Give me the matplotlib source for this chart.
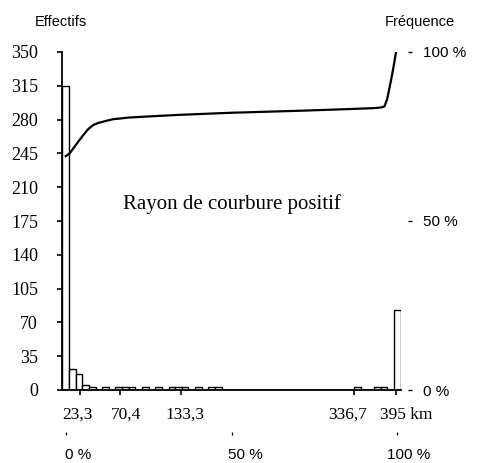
import matplotlib
matplotlib.use('Agg')
import matplotlib.pyplot as plt
import matplotlib.transforms as mtransforms
import numpy as np

# histogram: 51 classes, each 2 % of the x range (class centres 0, 2, ..., 100 %)
counts = [315, 22, 17, 5, 3, 0, 3, 0, 3, 3, 3, 0, 3, 0, 3, 0, 3, 3, 3, 0, 3, 0, 3, 3,
          0, 0, 0, 0, 0, 0, 0, 0, 0, 0, 0, 0, 0, 0, 0, 0, 0, 0, 0, 0,
          3, 0, 0, 3, 3, 0, 83]
class_pct = np.arange(len(counts)) * 2

# cumulative frequency curve (x in %, y in %)
cum_x = [0, 1.2, 2.3, 3.8, 5.3, 6.8, 8.3, 9.8, 11.3, 14.2, 19, 24.3, 34.2, 49.2,
         70, 85, 93, 95.1, 96.1, 96.9, 98.1, 99, 99.6]
cum_y = [69.2, 70.0, 71.5, 73.5, 75.4, 77.2, 78.4, 79.0, 79.4, 80.1, 80.6, 80.9, 81.4, 82.0,
         82.6, 83.1, 83.4, 83.6, 83.9, 86.0, 91.7, 96.5, 100]

# km ticks
km_ticks = [4.3, 16.3, 34.7, 86.9, 99.5]
km_labels = ['23,3', '70,4', '133,3', '336,7', '395 km']
km_label_x = [3.6, 18.2, 36.0, 85.0, 102.8]

pct_ticks = [0, 50, 100]
pct_labels = ['0 %', '50 %', '100 %']
pct_label_x = [3.6, 54.3, 103.5]

left_ticks = list(range(0, 351, 35))

serif = 'Liberation Serif'
sans = 'Liberation Sans'

fig = plt.figure(figsize=(4.78, 4.63), dpi=100)
ax = fig.add_axes([62.4 / 478, 1 - 390 / 463, 338.3 / 478, 338 / 463])

ax.bar(class_pct, counts, width=2, facecolor='white', edgecolor='black', linewidth=1.0)
ax.set_xlim(-1, 101)
ax.set_ylim(0, 350)
for s in ['top', 'right']:
    ax.spines[s].set_visible(False)
for s in ['left', 'bottom']:
    ax.spines[s].set_linewidth(1.3)

ax.set_yticks(left_ticks)
ax.set_yticklabels([str(v) for v in left_ticks], fontfamily=serif, fontsize=13)
ax.tick_params(axis='y', direction='out', length=3.6, width=1.2, pad=14)

ax.set_xticks(km_ticks)
ax.set_xticklabels([])
ax.tick_params(axis='x', direction='out', length=3.6, width=1.2)
trans = mtransforms.blended_transform_factory(ax.transData, ax.transAxes)
for lab, lx in zip(km_labels, km_label_x):
    ax.text(lx, -0.050, lab, transform=trans, ha='center', va='top',
            fontfamily=serif, fontsize=12.5)

# percent axis underneath
sec = ax.secondary_xaxis(-0.124)
sec.set_xticks(pct_ticks)
sec.set_xticklabels([])
sec.spines['bottom'].set_visible(False)
sec.tick_params(direction='out', length=2.2, width=0.9)
for lab, lx in zip(pct_labels, pct_label_x):
    ax.text(lx, -0.172, lab, transform=trans, ha='center', va='top',
            fontfamily=sans, fontsize=11)

# frequency axis on the right
ax2 = ax.twinx()
ax2.set_ylim(0, 100)
ax2.plot(cum_x, cum_y, color='black', linewidth=1.6, solid_joinstyle='round')
for s in ax2.spines.values():
    s.set_visible(False)
ax2.spines['right'].set_position(('outward', 5))
ax2.set_yticks(pct_ticks)
ax2.set_yticklabels(pct_labels, fontfamily=sans, fontsize=11)
ax2.tick_params(axis='y', direction='out', length=3, width=1, pad=8)

ax.text(50.1, 187, 'Rayon de courbure positif', ha='center', va='baseline',
        fontfamily=serif, fontsize=15)

fig.text(61 / 478, 1 - 22 / 463, 'Effectifs', ha='center', va='center',
         fontfamily=sans, fontsize=10.5)
fig.text(420 / 478, 1 - 22 / 463, 'Fréquence', ha='center', va='center',
         fontfamily=sans, fontsize=10.5)

fig.savefig('out.png', dpi=100)
